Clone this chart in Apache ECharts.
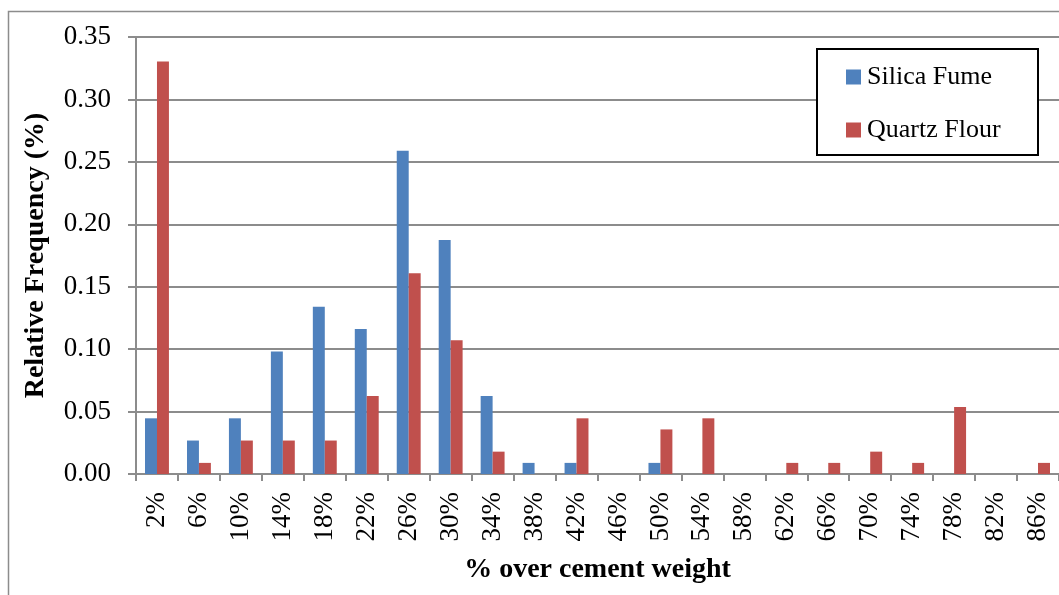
<!DOCTYPE html>
<html>
<head>
<meta charset="utf-8">
<script src="https://cdn.jsdelivr.net/npm/echarts@6/dist/echarts.min.js"></script>
<style>
  html, body { margin: 0; padding: 0; background: #fff; }
  #chart { width: 1059px; height: 595px; }
</style>
</head>
<body>
<div id="chart"></div>
<script>
// Dosage bins (% over cement weight)
const categories = ['2%', '6%', '10%', '14%', '18%', '22%', '26%', '30%', '34%', '38%', '42%',
  '46%', '50%', '54%', '58%', '62%', '66%', '70%', '74%', '78%', '82%', '86%'];

// Relative frequency per bin
const silicaFume = [0.0446, 0.0268, 0.0446, 0.0982, 0.1339, 0.1161, 0.2589, 0.1875, 0.0625, 0.0089, 0.0089,
  0, 0.0089, 0, 0, 0, 0, 0, 0, 0, 0, 0];
const quartzFlour = [0.3304, 0.0089, 0.0268, 0.0268, 0.0268, 0.0625, 0.1607, 0.1071, 0.0179, 0, 0.0446,
  0, 0.0357, 0.0446, 0, 0.0089, 0.0089, 0.0179, 0.0089, 0.0536, 0, 0.0089];

const serif = '"Liberation Serif", "DejaVu Serif", serif';
const gridGray = '#8c8c8c';

const chart = echarts.init(document.getElementById('chart'), null, { renderer: 'canvas' });

chart.setOption({
  animation: false,
  backgroundColor: '#fff',
  graphic: [
    {
      // outer chart-area frame
      type: 'rect',
      shape: { x: 8.5, y: 11.5, width: 1200, height: 800 },
      style: { fill: 'none', stroke: '#8c8c8c', lineWidth: 1.5 },
      z: -10
    },
    {
      // legend frame
      type: 'rect',
      shape: { x: 817, y: 49, width: 221, height: 106 },
      style: { fill: '#fff', stroke: '#000', lineWidth: 2 },
      z: 5
    }
  ],
  grid: { left: 136, right: -2, top: 37, bottom: 121 },
  legend: {
    orient: 'vertical',
    left: 846,
    top: 64,
    padding: 0,
    itemGap: 27,
    itemWidth: 15,
    itemHeight: 15,
    z: 10,
    icon: 'rect',
    textStyle: { fontFamily: serif, fontSize: 26, color: '#000', padding: [0, 0, 0, 1] },
    data: ['Silica Fume', 'Quartz Flour']
  },
  xAxis: {
    type: 'category',
    data: categories,
    name: '% over cement weight',
    nameLocation: 'middle',
    nameGap: 82,
    nameTextStyle: { fontFamily: serif, fontSize: 28, fontWeight: 'bold', color: '#000' },
    axisLine: { lineStyle: { color: gridGray, width: 2 } },
    axisTick: { show: true, length: 7, lineStyle: { color: gridGray, width: 2 } },
    axisLabel: { rotate: 90, margin: 18, fontFamily: serif, fontSize: 27, color: '#000' },
    splitLine: { show: false }
  },
  yAxis: {
    type: 'value',
    min: 0,
    max: 0.35,
    interval: 0.05,
    name: 'Relative Frequency (%)',
    nameLocation: 'middle',
    nameGap: 86,
    nameTextStyle: { fontFamily: serif, fontSize: 28, fontWeight: 'bold', color: '#000' },
    axisLine: { show: true, lineStyle: { color: gridGray, width: 2 } },
    axisTick: { show: true, length: 8, inside: false, lineStyle: { color: gridGray, width: 2 } },
    axisLabel: {
      margin: 25, fontFamily: serif, fontSize: 27, color: '#000',
      formatter: v => v.toFixed(2)
    },
    splitLine: { show: true, lineStyle: { color: gridGray, width: 2 } }
  },
  series: [
    {
      name: 'Silica Fume',
      type: 'bar',
      data: silicaFume,
      barGap: '0%',
      barCategoryGap: '43%',
      itemStyle: { color: '#4F81BD' }
    },
    {
      name: 'Quartz Flour',
      type: 'bar',
      data: quartzFlour,
      barGap: '0%',
      barCategoryGap: '43%',
      itemStyle: { color: '#C0504D' }
    }
  ]
});
</script>
</body>
</html>
